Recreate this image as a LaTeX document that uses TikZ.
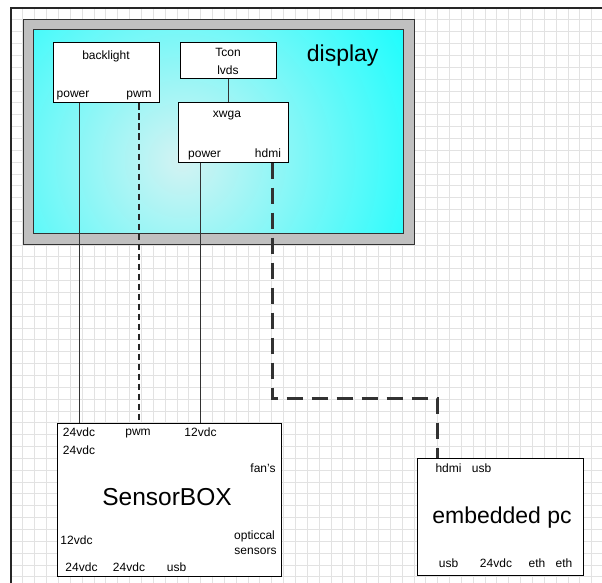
\documentclass[tikz,border=0pt]{standalone}
\usepackage{fontspec}
\setmainfont{Liberation Sans}
\usetikzlibrary{
  calc,
  positioning,
}
\definecolor{screencyan}{RGB}{0, 255, 255}
\definecolor{screenglow}{RGB}{212, 242, 242}
\definecolor{bezelgray}{RGB}{192, 192, 192}
\definecolor{gridgray}{RGB}{226, 226, 226}
\definecolor{wiregray}{RGB}{50, 50, 50}
\tikzstyle{box} = [rectangle, draw=black, line width=1pt, fill=white]
\tikzstyle{lbl} = [inner sep=0pt, anchor=base, font=\fontsize{12}{14}\selectfont]
\tikzstyle{big} = [inner sep=0pt, anchor=base, font=\fontsize{23}{27}\selectfont]
\tikzstyle{wire} = [line width=1pt, wiregray]
\tikzstyle{pwmwire} = [line width=2.3pt, black!85, dash pattern=on 6.5pt off 3.5pt]
\tikzstyle{hdmiwire} = [line width=2.5pt, wiregray, dash pattern=on 16pt off 9pt]
\tikzstyle{gridline} = [line width=0.8pt, gridgray]

\begin{document}
\begin{tikzpicture}[x=1pt,y=-1pt]
			\useasboundingbox (0,0) rectangle (602,583);

			% sheet
			\foreach \i in {0,...,49} \draw[gridline] ({11+\i*11.85},8) -- ({11+\i*11.85},583);
			\foreach \j in {0,...,48} \draw[gridline] (11,{8+\j*11.85}) -- (602,{8+\j*11.85});
			\draw[line width=1.3pt,black!85] (11,583) -- (11,8) -- (602,8);

			% display
			\node[rectangle,draw=wiregray,line width=1pt,fill=bezelgray,minimum width=391,minimum height=224] (bezel) at (218.5,132) {};
			\node[rectangle,minimum width=369,minimum height=203] (screen) at (218.5,131.5) {};
			\begin{scope}
				\clip (screen.south west) rectangle (screen.north east);
				\shade[inner color=screenglow,outer color=screencyan] (182,160) circle (300);
			\end{scope}
			\draw[line width=1pt,wiregray] (screen.south west) rectangle (screen.north east);
			\node[big] (displayname) at ($(screen.north east)+(-60.5,32)$) {display};

			\node[box,minimum width=106,minimum height=60] (backlight) at (106,73) {};
			\node[lbl] (blname) at ($(backlight.north)+(0,17.5)$) {backlight};
			\node[lbl] (blpower) at ($(backlight.south west)+(20.5,-6)$) {power};
			\node[lbl] (blpwm) at ($(backlight.south east)+(-20.5,-6)$) {pwm};

			\node[box,minimum width=96,minimum height=36] (tcon) at (228,61) {};
			\node[lbl] (tconname) at ($(tcon.north)+(0,14.5)$) {Tcon};
			\node[lbl] (tconlvds) at ($(tcon.north)+(0,32)$) {lvds};

			\node[box,minimum width=110,minimum height=59] (xwga) at (233,132.5) {};
			\node[lbl] (xwganame) at ($(xwga.north)+(-6,15)$) {xwga};
			\node[lbl] (xwgapower) at ($(xwga.south west)+(27,-5.3)$) {power};
			\node[lbl] (xwgahdmi) at ($(xwga.south east)+(-20.5,-5.3)$) {hdmi};

			% sensor box
			\node[box,minimum width=224,minimum height=153] (sensor) at (169,499.5) {};
			\node[lbl] (sb24a) at ($(sensor.north west)+(22.5,14.3)$) {24vdc};
			\node[lbl] (sb24b) at ($(sensor.north west)+(22.5,32)$) {24vdc};
			\node[lbl] (sbpwm) at ($(sensor.north west)+(81.5,13)$) {pwm};
			\node[lbl] (sb12a) at ($(sensor.north west)+(144,14.3)$) {12vdc};
			\node[lbl] (sbfans) at ($(sensor.north east)+(-18.5,49.7)$) {fan's};
			\node[big,font=\fontsize{24.5}{29}\selectfont] (sbname) at ($(sensor.north west)+(110.5,83)$) {SensorBOX};
			\node[lbl] (sb12b) at ($(sensor.south west)+(20,-32)$) {12vdc};
			\node[lbl] (sbopt) at ($(sensor.south east)+(-27,-36.7)$) {opticcal};
			\node[lbl] (sbsens) at ($(sensor.south east)+(-26,-22)$) {sensors};
			\node[lbl] (sb24c) at ($(sensor.south west)+(25,-5.3)$) {24vdc};
			\node[lbl] (sb24d) at ($(sensor.south west)+(72.5,-5.3)$) {24vdc};
			\node[lbl] (sbusb) at ($(sensor.south west)+(120,-5.3)$) {usb};

			% embedded pc
			\node[box,minimum width=166,minimum height=117] (pc) at (500,516.5) {};
			\node[lbl] (pchdmi) at ($(pc.north west)+(32,14.7)$) {hdmi};
			\node[lbl] (pcusba) at ($(pc.north west)+(65,14.7)$) {usb};
			\node[big] (pcname) at ($(pc.north west)+(85.5,66)$) {embedded pc};
			\node[lbl] (pcusbb) at ($(pc.south west)+(32,-7.7)$) {usb};
			\node[lbl] (pc24) at ($(pc.south west)+(79.5,-7.7)$) {24vdc};
			\node[lbl] (pcetha) at ($(pc.south west)+(120.5,-7.7)$) {eth};
			\node[lbl] (pcethb) at ($(pc.south west)+(147.5,-7.7)$) {eth};

			% wiring
			\coordinate (hdmiout) at ($(xwga.south east)+(-16,0)$);
			\coordinate (pcin) at ($(pc.north west)+(21,0)$);
			\coordinate (hdmiturn) at ($(pcin)+(0,-59)$);

			\draw[wire] (tcon.south) -- (tcon.south |- xwga.north);
			\draw[wire] (sb24a |- backlight.south) -- (sb24a |- sensor.north);
			\draw[pwmwire] (blpwm |- backlight.south) -- (blpwm |- sensor.north);
			\draw[wire] (sb12a |- xwga.south) -- (sb12a |- sensor.north);
			\draw[hdmiwire] (hdmiout) |- (hdmiturn) -- (pcin);
		\end{tikzpicture}
\end{document}
